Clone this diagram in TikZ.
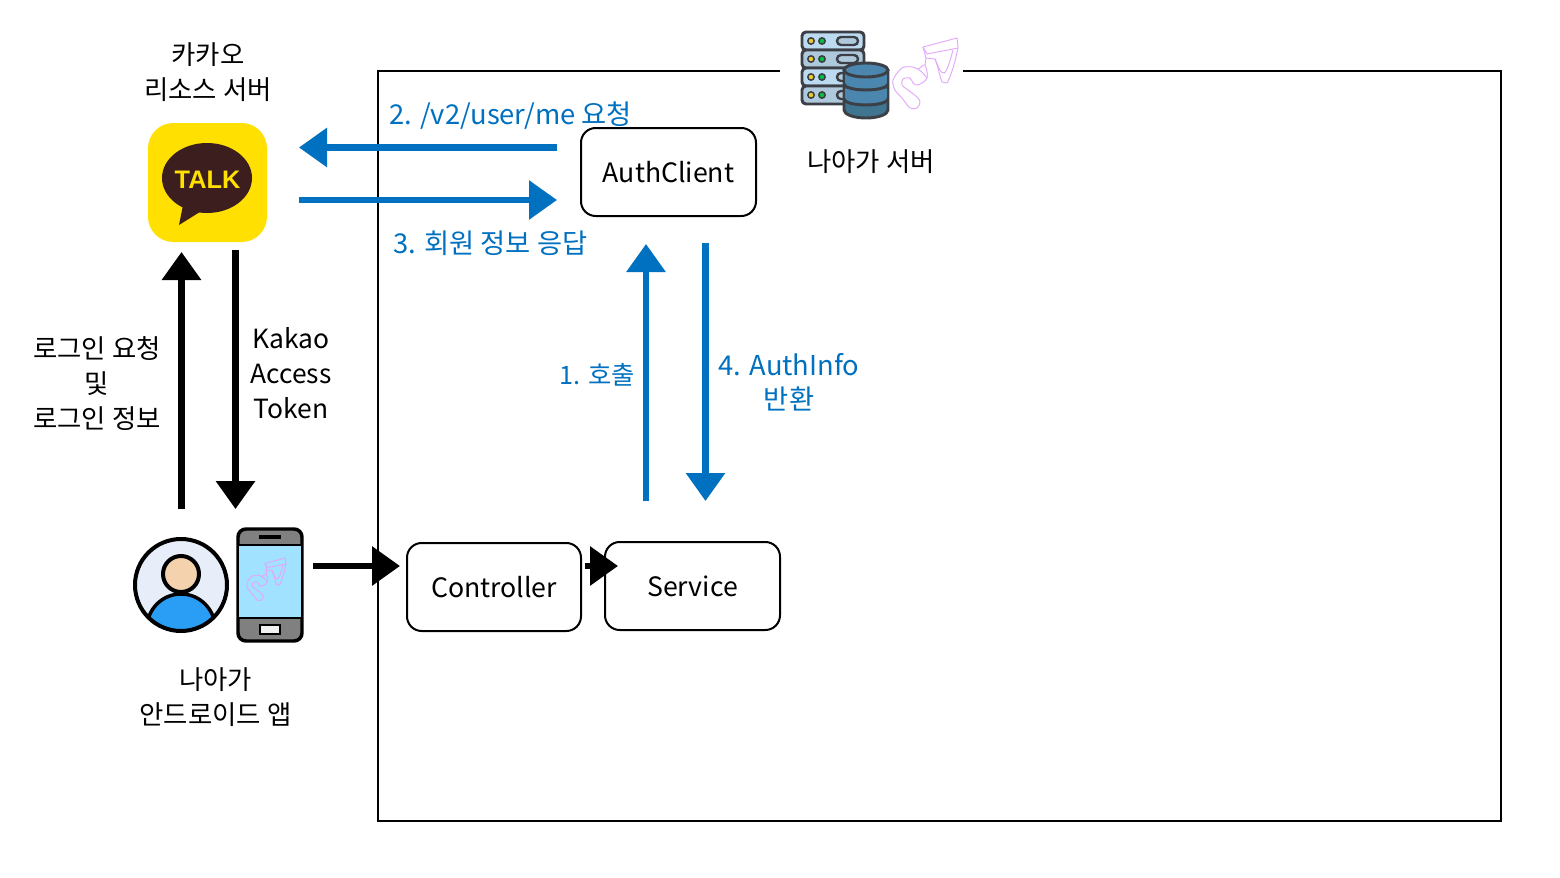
\documentclass[tikz,border=0pt]{standalone}
\usepackage{fontspec}
\setmainfont{Noto Sans CJK KR}
\newfontfamily\talkfont{Liberation Sans}
\usetikzlibrary{arrows.meta}
\definecolor{flowblue}{HTML}{0070C0}
\definecolor{kakaoyellow}{HTML}{FFE000}
\definecolor{kakaobrown}{HTML}{3C1E1E}
\definecolor{logopink}{HTML}{E4A8FA}
\definecolor{servdark}{HTML}{3C3F46}
\definecolor{servlight}{HTML}{BDDBF0}
\definecolor{servmid}{HTML}{AFC9DC}
\definecolor{dbtop}{HTML}{4A86AD}
\definecolor{dbband}{HTML}{3F7590}
\definecolor{personblue}{HTML}{2A9DF4}
\definecolor{personbg}{HTML}{E8EEF9}
\tikzset{
  x=0.75pt,y=-0.75pt,
  comp/.style={draw=black,line width=1.5pt,rounded corners=11pt,fill=white,inner sep=0pt,font=\fontsize{20}{26}\selectfont},
  lbl/.style={align=center,inner sep=0pt,font=\fontsize{19.8}{26.25}\selectfont},
  bluelbl/.style={align=center,inner sep=0pt,text=flowblue,font=\fontsize{20.5}{25.5}\selectfont},
  bluearrow/.style={draw=flowblue,line width=4.6pt,-{Triangle[length=21pt,width=28.5pt]}},
  blackarrow/.style={draw=black,line width=4.8pt,-{Triangle[length=21pt,width=28.5pt]}},
  nayalogo/.pic={
    \draw[logopink,line width=0.7pt,line join=round]
      (30,9) -- (64,0) -- (65,9) .. controls (63,22) and (58,38) .. (54,45)
      -- (49,44) .. controls (46,36) and (45,28) .. (42,21) -- (33,20) -- cycle;
    \draw[logopink,line width=0.7pt] (30,9) -- (34,16) -- (65,10);
    \draw[logopink,line width=0.7pt] (42,21) .. controls (45,27) and (47,36) .. (51,35) .. controls (54,34) and (58,20) .. (60,12);
    \draw[logopink,line width=0.7pt] (33,20) -- (32,27);
    \draw[logopink,line width=0.7pt] plot[smooth cycle,tension=0.55] coordinates
      {(32,27) (25,31) (20,29) (9,30) (0,42) (2,52) (9,60) (17,70) (24,70) (27,64) (24,59) (15,52) (9,47) (10,41) (17,40) (20,45) (25,47) (34,40)};
    \draw[logopink,line width=0.7pt] (25,31) .. controls (28,33) and (31,36) .. (34,40);
  }
}
\begin{document}
\begin{tikzpicture}
\useasboundingbox[fill=white] (0,0) rectangle (1560,878);

% frame
\coordinate (fa) at (780,71);
\coordinate (fb) at (963,71);
\draw[black,line width=1.5pt,line join=miter] (fa) -- (378,71) -- (378,821) -- (1501,821) -- (1501,71) -- (fb);

% components
\node[comp,minimum width=131.25pt,minimum height=66pt] (auth) at (668.5,172) {\raisebox{-0.7pt}{AuthClient}};
\node[comp,minimum width=130.5pt,minimum height=66pt] (ctrl) at (494,587) {\raisebox{-1.4pt}{Controller}};
\node[comp,minimum width=131.25pt,minimum height=66pt] (svc) at (692.5,586) {\raisebox{-1.4pt}{Service}};

% kakao icon
\fill[kakaoyellow,rounded corners=19pt] (148,123) rectangle (267,242);
\fill[kakaobrown] (207,178) ellipse [x radius=45,y radius=35];
\fill[kakaobrown,line join=round] (183,205) -- (179,225) -- (203,210) -- cycle;
\node[text=kakaoyellow,inner sep=0pt,font=\talkfont\bfseries\fontsize{19}{19}\selectfont] (talk) at (207.5,179.5) {TALK};

% server icon
\foreach \yy/\cc in {32/servlight,50/servmid,68/servlight,86/servmid}{
  \draw[servdark,line width=2.2pt,fill=\cc,rounded corners=3pt] (802,\yy) rectangle (864,\yy+18);
  \fill[servdark] (811,\yy+9) circle [radius=4];
  \fill[servdark] (822,\yy+9) circle [radius=4];
  \fill[yellow!60!brown] (811,\yy+9) circle [radius=2.2];
  \fill[green!50!teal] (822,\yy+9) circle [radius=2.2];
  \draw[servdark,line width=1.8pt,fill=servmid,rounded corners=3pt] (837,\yy+5) rectangle (858,\yy+13);
}
\draw[servdark,line width=2.2pt,fill=dbband] (844,70) -- (844,110) arc [start angle=180,end angle=360,x radius=22,y radius=-8] -- (888,70);
\fill[dbtop] (844,73) rectangle (888,88);
\fill[dbtop] (844,89) rectangle (888,103);
\draw[servdark,line width=2.2pt,fill=dbtop] (866,70) ellipse [x radius=22,y radius=7];
\draw[servdark,line width=2.2pt] (844,70) -- (844,110) (888,70) -- (888,110);
\draw[servdark,line width=2.2pt] (844,84) arc [start angle=180,end angle=360,x radius=22,y radius=-6];
\draw[servdark,line width=2.2pt] (844,99) arc [start angle=180,end angle=360,x radius=22,y radius=-6];
\pic at (893,38) {nayalogo};

% person icon
\fill[personbg] (181,585) circle [radius=46];
\begin{scope}
  \clip (181,585) circle [radius=46];
  \draw[black,line width=2.6pt,fill=personblue] (181,628) circle [radius=34];
\end{scope}
\draw[black,line width=3pt] (181,585) circle [radius=46];
\draw[black,line width=3pt,fill={rgb,255:red,245;green,210;blue,174}] (181,574) circle [radius=18];

% phone icon
\draw[black,line width=2.6pt,fill=gray,rounded corners=6pt] (238,529) rectangle (302,641);
\draw[black,line width=2.2pt,fill={rgb,255:red,160;green,226;blue,255}] (238,545) rectangle (302,618);
\draw[black,line width=2.6pt] (259,537) -- (281,537);
\draw[black,line width=2.2pt,fill=white!90!gray] (260,625) rectangle (280,634);
\pic[scale=0.6] at (247,558) {nayalogo};

% coordinates for connectors
\coordinate (a1s) at (557,147.5); \coordinate (a1e) at (299,147.5);
\coordinate (a2s) at (299,200); \coordinate (a2e) at (557,200);
\coordinate (a3s) at (646,501); \coordinate (a3e) at (646,244);
\coordinate (a4s) at (705.5,243); \coordinate (a4e) at (705.5,501);
\coordinate (a5s) at (181.5,509); \coordinate (a5e) at (181.5,252);
\coordinate (a6s) at (235.5,250); \coordinate (a6e) at (235.5,509);
\coordinate (a7s) at (313,566); \coordinate (a7e) at (400,566);
\coordinate (a8s) at (585,566); \coordinate (a8e) at (618,566);

\draw[bluearrow] (a1s) -- (a1e);
\draw[bluearrow] (a2s) -- (a2e);
\draw[bluearrow] (a3s) -- (a3e);
\draw[bluearrow] (a4s) -- (a4e);
\draw[blackarrow] (a5s) -- (a5e);
\draw[blackarrow] (a6s) -- (a6e);
\draw[blackarrow] (a7s) -- (a7e);
\draw[blackarrow] (a8s) -- (a8e);

% labels
\node[lbl] (lres) at (208,72.5) {카카오\\리소스 서버};
\node[lbl] (lsrv) at (871,161.5) {나아가 서버};
\node[lbl] (lapp) at (215.5,697.5) {나아가\\안드로이드 앱};
\node[lbl] (llog) at (97,384) {로그인 요청\\및\\로그인 정보};
\node[lbl] (ltok) at (291,373.5) {Kakao\\Access\\Token};
\node[bluelbl,anchor=west] (l2) at (389,115.5) {2. /v2/user/me 요청};
\node[bluelbl,anchor=west] (l3) at (393,243) {3. 회원 정보 응답};
\node[bluelbl,font=\fontsize{19}{25.5}\selectfont] (l1) at (597.5,375) {1. 호출};
\node[bluelbl] (l4) at (789,382) {4. AuthInfo\\반환};
\end{tikzpicture}
\end{document}
